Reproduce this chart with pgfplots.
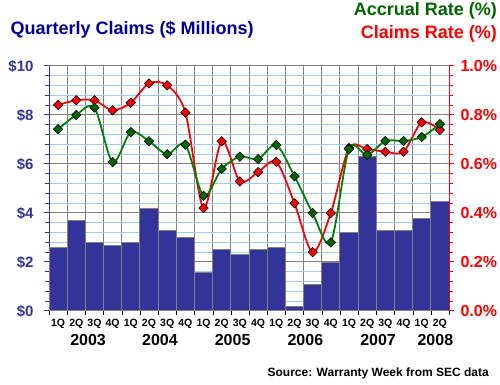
\documentclass[border=0pt]{standalone}
\usepackage{pgfplots}
\pgfplotsset{compat=1.18}
\usepackage{fontspec}
\setmainfont{Liberation Sans}
\definecolor{barblue}{HTML}{333399}
\definecolor{titleblue}{HTML}{000099}
\definecolor{gridgray}{HTML}{808080}
\definecolor{gridblue}{HTML}{99CCFF}
\definecolor{accgreen}{HTML}{008000}
\definecolor{markgreen}{HTML}{006600}
\definecolor{ttlgreen}{HTML}{006600}
\begin{document}
\begin{tikzpicture}[x=1pt,y=1pt]
\path[use as bounding box] (0,0) rectangle (500,385);
\begin{axis}[
  at={(49pt,74pt)}, anchor=south west,
  scale only axis, width=400pt, height=245pt,
  xmin=0, xmax=22, ymin=0, ymax=10,
  axis x line*=bottom, axis y line*=left,
  axis line style={-},
  clip=false,
  xtick={0.5,1.5,2.5,3.5,4.5,5.5,6.5,7.5,8.5,9.5,10.5,11.5,12.5,13.5,14.5,15.5,16.5,17.5,18.5,19.5,20.5,21.5},
  xticklabels={1Q,2Q,3Q,4Q,1Q,2Q,3Q,4Q,1Q,2Q,3Q,4Q,1Q,2Q,3Q,4Q,1Q,2Q,3Q,4Q,1Q,2Q},
  minor xtick={0,1,2,3,4,5,6,7,8,9,10,11,12,13,14,15,16,17,18,19,20,21,22},
  major x tick style={draw=none},
  minor x tick style={black},
  xminorgrids=true, xmajorgrids=false,
  minor x grid style={gridgray, line width=1pt},
  ytick={0,2,4,6,8,10},
  yticklabels={\$0,\$2,\$4,\$6,\$8,\$10},
  minor y tick num=4,
  ymajorgrids=true, yminorgrids=true,
  major y grid style={gridgray, line width=1pt},
  minor y grid style={gridblue, line width=1pt},
  tick align=outside, major tick length=5pt, minor tick length=4pt,
  y axis line style={barblue, line width=1pt},
  x axis line style={barblue, line width=1pt},
  ytick style={barblue, line width=1pt},
  yticklabel style={font=\bfseries\fontsize{15}{15}\selectfont, text=barblue, xshift=-7pt},
  xticklabel style={font=\bfseries\fontsize{10.5}{10.5}\selectfont, text=black},
]
\addplot[ybar, bar width=1, bar shift=0pt, fill=barblue, draw=gridgray, line width=1pt] coordinates {
(0.5,2.60) (1.5,3.70) (2.5,2.80) (3.5,2.68) (4.5,2.80) (5.5,4.19) (6.5,3.29) (7.5,3.01)
(8.5,1.58) (9.5,2.52) (10.5,2.31) (11.5,2.52) (12.5,2.60) (13.5,0.18) (14.5,1.09) (15.5,1.99)
(16.5,3.21) (17.5,6.30) (18.5,3.29) (19.5,3.29) (20.5,3.78) (21.5,4.48)};
\foreach \yr/\xc in {2003/2.15, 2004/6.1, 2005/10.1, 2006/14.1, 2007/18.1, 2008/21.25}{
  \edef\tmp{\noexpand\node[font=\noexpand\bfseries\noexpand\fontsize{16}{16}\noexpand\selectfont, anchor=base] at (axis cs:\xc,0) [yshift=-34.7pt] {\yr};}
  \tmp
}
\end{axis}
\begin{axis}[
  at={(49pt,74pt)}, anchor=south west,
  scale only axis, width=400pt, height=245pt,
  xmin=0, xmax=22, ymin=0, ymax=1,
  axis y line*=right, axis x line=none,
  axis line style={-},
  clip=false,
  ytick={0,0.2,0.4,0.6,0.8,1.0},
  yticklabels={0.0\%,0.2\%,0.4\%,0.6\%,0.8\%,1.0\%},
  minor y tick num=4,
  tick align=outside, major tick length=5pt, minor tick length=4pt,
  y axis line style={red, line width=1pt},
  ytick style={red, line width=1pt},
  yticklabel style={font=\bfseries\fontsize{16}{16}\selectfont, text=red, xshift=3pt},
]
\addplot[red, line width=1.8pt, smooth, tension=0.5, mark=square*, mark size=3.3pt,
  mark options={rotate=45, fill=red, draw=black, line width=0.6pt}] coordinates {
(0.5,0.841) (1.5,0.86) (2.5,0.86) (3.5,0.819) (4.5,0.85) (5.5,0.929) (6.5,0.921) (7.5,0.81)
(8.5,0.42) (9.5,0.693) (10.5,0.529) (11.5,0.567) (12.5,0.609) (13.5,0.44) (14.5,0.24) (15.5,0.40)
(16.5,0.665) (17.5,0.661) (18.5,0.65) (19.5,0.65) (20.5,0.77) (21.5,0.739)};
\addplot[accgreen, line width=1.8pt, smooth, tension=0.5, mark=square*, mark size=3.3pt,
  mark options={rotate=45, fill=markgreen, draw=black, line width=0.6pt}] coordinates {
(0.5,0.742) (1.5,0.80) (2.5,0.83) (3.5,0.608) (4.5,0.73) (5.5,0.693) (6.5,0.64) (7.5,0.679)
(8.5,0.47) (9.5,0.58) (10.5,0.63) (11.5,0.62) (12.5,0.678) (13.5,0.55) (14.5,0.40) (15.5,0.28)
(16.5,0.661) (17.5,0.637) (18.5,0.694) (19.5,0.694) (20.5,0.71) (21.5,0.763)};
\end{axis}
\node[anchor=base west, font=\bfseries\fontsize{18}{18}\selectfont, text=titleblue] at (7,350) {Quarterly Claims (\$ Millions)};
\node[anchor=base east, font=\bfseries\fontsize{18}{18}\selectfont, text=ttlgreen, inner sep=0pt] at (497,369) {Accrual Rate (\%)};
\node[anchor=base east, font=\bfseries\fontsize{18}{18}\selectfont, text=red, inner sep=0pt] at (497,346) {Claims Rate (\%)};
\node[anchor=base east, font=\bfseries\fontsize{12}{12}\selectfont, inner sep=0pt] at (489,8) {Source: Warranty Week from SEC data};
\end{tikzpicture}
\end{document}
